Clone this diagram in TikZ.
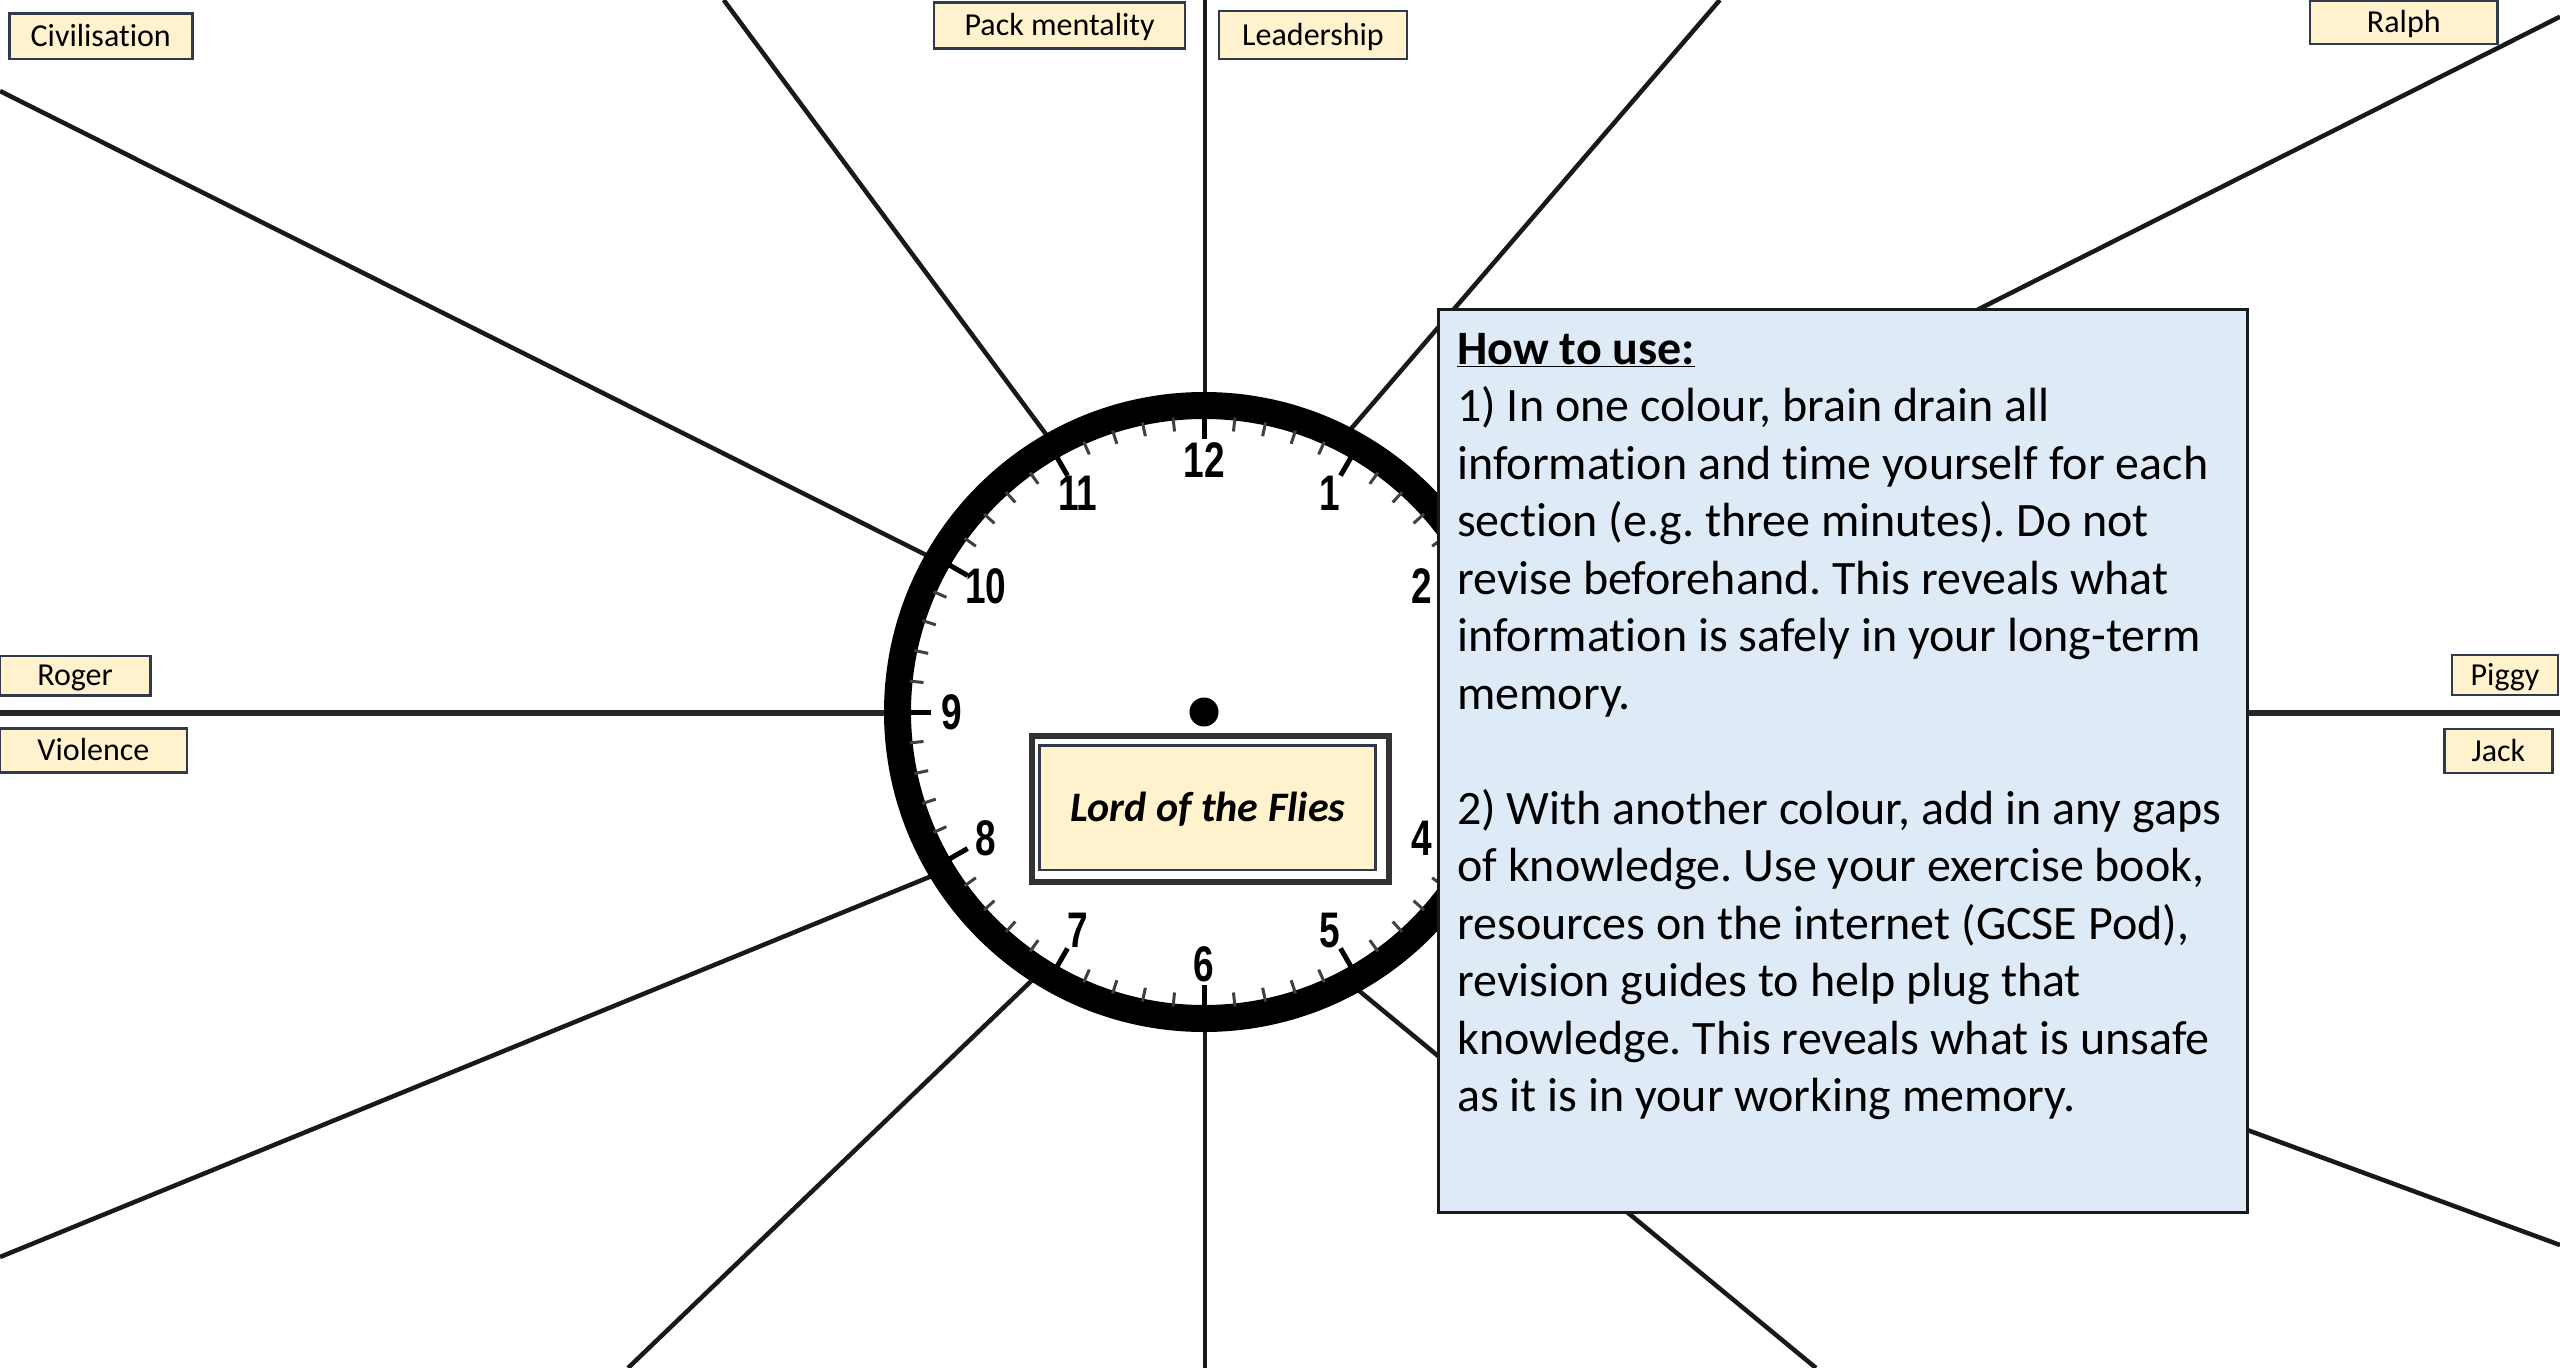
\documentclass[tikz,border=0pt]{standalone}
\usepackage{fontspec}
\setmainfont{Carlito}[Ligatures=NoCommon]
\newfontfamily\clocknumfont{Liberation Sans}
\usetikzlibrary{calc}
\frenchspacing
\definecolor{labelfill}{HTML}{FFF2CC}
\definecolor{labeldraw}{HTML}{2F3A4A}
\definecolor{howfill}{HTML}{DEEBF7}
\definecolor{howdraw}{HTML}{1A1A1A}
\newcommand\lblstrut{\rule[-9pt]{0pt}{38.5pt}}
\newcommand\titlestrut{\rule[-11.8pt]{0pt}{50.5pt}}
\tikzset{
  spoke/.style={line width=4.5pt, draw=black!90},
  hspoke/.style={line width=5.5pt, draw=black!85},
  lbl/.style={draw=labeldraw, fill=labelfill, line width=2.5pt, inner sep=0pt,
    font=\fontsize{32pt}{38pt}\selectfont},
  clockface/.style={circle, draw=black, fill=white, line width=27pt, inner sep=0pt,
    minimum size=613pt},
  tickmin/.style={line width=3pt, draw=black!75},
  tickmaj/.style={line width=5pt, draw=black},
  clocknumber/.style={inner sep=0pt, font=\clocknumfont\bfseries\fontsize{50pt}{60pt}\selectfont},
  titleouter/.style={draw=black!80, fill=white, line width=6pt, inner sep=0pt},
  titleinner/.style={draw=labeldraw, fill=labelfill, line width=2.5pt, inner sep=0pt,
    font=\fontsize{42pt}{50pt}\selectfont},
  howbox/.style={draw=howdraw, fill=howfill, line width=3pt, inner sep=0pt},
  howtext/.style={align=left, inner sep=0pt, font=\fontsize{48pt}{57.5pt}\selectfont}
}
\begin{document}
\begin{tikzpicture}[x=1pt,y=-1pt]
\fill[white] (0,0) rectangle (2560,1368);
\useasboundingbox (0,0) rectangle (2560,1368);

% spoke end points
\coordinate (s12in) at (1205,450);   \coordinate (s12out) at (1205,0);
\coordinate (s11in) at (1072.5,470); \coordinate (s11out) at (723.7,0);
\coordinate (s10in) at (980,582);    \coordinate (s10out) at (0,91);
\coordinate (s9in)  at (950,713);    \coordinate (s9out)  at (0,713);
\coordinate (s8in)  at (980,856.3);  \coordinate (s8out)  at (0,1257);
\coordinate (s7in)  at (1060,953.4); \coordinate (s7out)  at (628,1368);
\coordinate (s6in)  at (1205,980);   \coordinate (s6out)  at (1205,1368);
\coordinate (s5in)  at (1300,942);   \coordinate (s5out)  at (1816,1368);
\coordinate (s4in)  at (1800,965.5); \coordinate (s4out)  at (2560,1245);
\coordinate (s3in)  at (1600,713);   \coordinate (s3out)  at (2560,713);
\coordinate (s2in)  at (1500,550);   \coordinate (s2out)  at (2560,16.7);
\coordinate (s1in)  at (1324.2,460); \coordinate (s1out)  at (1719.8,0);

\draw[spoke] (s12in) -- (s12out);
\draw[spoke] (s11in) -- (s11out);
\draw[spoke] (s10in) -- (s10out);
\draw[hspoke] (s9in) -- (s9out);
\draw[spoke] (s8in) -- (s8out);
\draw[spoke] (s7in) -- (s7out);
\draw[spoke] (s6in) -- (s6out);
\draw[spoke] (s5in) -- (s5out);
\draw[spoke] (s4in) -- (s4out);
\draw[hspoke] (s3in) -- (s3out);
\draw[spoke] (s2in) -- (s2out);
\draw[spoke] (s1in) -- (s1out);

% clock
\node[clockface] (clock) at (1204,712) {};
\fill (clock.center) circle (14.5);
\begin{scope}[shift={(clock.center)}]
  \foreach \i in {0,...,59} \draw[tickmin] ({6*\i}:296) -- ({6*\i}:282);
  \foreach \h in {1,...,12} {
    \draw[tickmaj] ({30*\h}:296) -- ({30*\h}:273);
    \node[clocknumber] (num\h) at ({30*\h-90}:252) {\scalebox{0.74}[1]{\h}};
  }
\end{scope}

% title
\node[titleouter, minimum width=356.9pt, minimum height=146.4pt] (titlebox) at (1210.15,809.2) {};
\node[titleinner, minimum width=336pt, minimum height=124.5pt] (title) at (1207.7,807.75)
  {\titlestrut\textbf{\textit{Lord of the Flies}}};

% instructions
\node[howbox, minimum width=809pt, minimum height=903pt] (how) at (1842.5,760.5) {};
\node[howtext, anchor=base west] (howtxt) at (1457,1111.5) {%
\underline{\textbf{How to use:}}\\
1) In one colour, brain drain all\\
information and time yourself for each\\
section (e.g. three minutes). Do not\\
revise beforehand. This reveals what\\
information is safely in your long-term\\
memory.\\[57.5pt]
2) With another colour, add in any gaps\\
of knowledge. Use your exercise book,\\
resources on the internet (GCSE Pod),\\
revision guides to help plug that\\
knowledge. This reveals what is unsafe\\
as it is in your working memory.};

% labels
\node[lbl, minimum width=183pt, minimum height=45.7pt] (civ) at (100.75,36.15) {\lblstrut Civilisation};
\node[lbl, minimum width=251pt, minimum height=45.6pt] (pack) at (1059.6,25.5) {\lblstrut Pack mentality};
\node[lbl, minimum width=188pt, minimum height=48.3pt] (lead) at (1313,34.9) {\lblstrut Leadership};
\node[lbl, minimum width=187.6pt, minimum height=43.3pt] (ralph) at (2403.8,22.3) {\lblstrut Ralph};
\node[lbl, minimum width=151pt, minimum height=39.6pt] (roger) at (75,675.6) {\lblstrut Roger};
\node[lbl, minimum width=187pt, minimum height=44.4pt] (viol) at (93.4,750.5) {\lblstrut Violence};
\node[lbl, minimum width=106pt, minimum height=40pt] (piggy) at (2505,675) {\lblstrut Piggy};
\node[lbl, minimum width=108pt, minimum height=44pt] (jack) at (2498.4,751) {\lblstrut Jack};
\end{tikzpicture}
\end{document}
